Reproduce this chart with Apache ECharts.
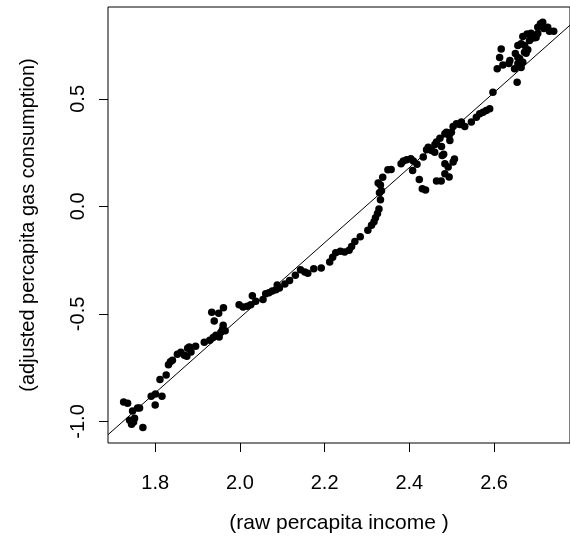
<!DOCTYPE html>
<html>
<head>
<meta charset="utf-8">
<script src="https://cdn.jsdelivr.net/npm/echarts@6/dist/echarts.min.js"></script>
<style>
  html, body { margin: 0; padding: 0; background: #fff; }
  #chart { width: 570px; height: 552px; }
</style>
</head>
<body>
<div id="chart"></div>
<script>
// raw percapita income (x) and adjusted percapita gas consumption (y)
var income = [
  1.7255, 1.7349, 1.7466, 1.7584, 1.7631, 1.7396, 1.7443, 1.7513, 1.7490, 1.7709,
  1.7906, 1.8007, 1.8160, 1.8000, 1.8113, 1.8259, 1.8313, 1.8360, 1.8407, 1.8524,
  1.8606, 1.8689, 1.8747, 1.8766, 1.8806, 1.8846, 1.8954, 1.9159, 1.9288, 1.9370,
  1.9434, 1.9511, 1.9551, 1.9589, 1.9652, 1.9605, 1.9394, 1.9335, 1.9499, 1.9612,
  1.9981, 2.0075, 2.0176, 2.0256, 2.0294, 2.0374, 2.0545, 2.0609, 2.0686, 2.0764,
  2.0851, 2.0881, 2.0933, 2.1062, 2.1173, 2.1309, 2.1431, 2.1532, 2.1603, 2.1744,
  2.1920, 2.2120, 2.2190, 2.2261, 2.2371, 2.2472, 2.2578, 2.2637, 2.2714, 2.2841,
  2.3020, 2.3107, 2.3166, 2.3201, 2.3248, 2.3283, 2.3318, 2.3295, 2.3342, 2.3264,
  2.3318, 2.3372, 2.3494, 2.3570, 2.3805, 2.3859, 2.3937, 2.4035, 2.4094, 2.4181,
  2.4078, 2.4235, 2.4306, 2.4383, 2.4329, 2.4407, 2.4447, 2.4524, 2.4599, 2.4604,
  2.4642, 2.4722, 2.4759, 2.4839, 2.4877, 2.4940, 2.4957, 2.4994, 2.5034, 2.5112,
  2.5192, 2.5229, 2.5309, 2.5464, 2.5582, 2.5662, 2.5740, 2.5817, 2.5897,
  2.4776, 2.4839, 2.4917, 2.4839, 2.4940, 2.5034, 2.5065, 2.4642, 2.4752, 2.4811,
  2.5974, 2.6545, 2.6075, 2.6209, 2.6132, 2.6169, 2.6374, 2.6484, 2.6639, 2.6679,
  2.6562, 2.6503, 2.6562, 2.6639, 2.6679, 2.6780, 2.6874, 2.6837, 2.6797, 2.6719,
  2.6954, 2.6992, 2.7032, 2.7095, 2.7149, 2.7267, 2.7408, 2.7307, 2.6562, 2.6757,
  2.6606, 2.6724, 2.6888, 2.6351, 2.7032, 2.7173
];
var gas = [
  -0.910, -0.915, -0.952, -0.938, -0.938, -0.994, -1.013, -0.985, -1.003, -1.028,
  -0.883, -0.873, -0.883, -0.924, -0.805, -0.784, -0.736, -0.723, -0.715, -0.687,
  -0.678, -0.692, -0.697, -0.660, -0.654, -0.677, -0.650, -0.632, -0.622, -0.610,
  -0.599, -0.607, -0.585, -0.573, -0.578, -0.553, -0.533, -0.492, -0.497, -0.471,
  -0.457, -0.468, -0.464, -0.457, -0.416, -0.441, -0.433, -0.406, -0.402, -0.393,
  -0.388, -0.365, -0.379, -0.361, -0.345, -0.320, -0.295, -0.305, -0.311, -0.290,
  -0.287, -0.258, -0.237, -0.216, -0.209, -0.212, -0.204, -0.187, -0.163, -0.141,
  -0.111, -0.088, -0.071, -0.053, -0.033, -0.012, 0.031, 0.064, 0.073, 0.109,
  0.099, 0.136, 0.170, 0.172, 0.198, 0.211, 0.217, 0.222, 0.211, 0.196,
  0.167, 0.125, 0.082, 0.076, 0.230, 0.263, 0.275, 0.260, 0.252, 0.288,
  0.299, 0.317, 0.279, 0.338, 0.345, 0.330, 0.307, 0.345, 0.372, 0.384,
  0.381, 0.392, 0.372, 0.392, 0.415, 0.431, 0.438, 0.446, 0.454,
  0.237, 0.198, 0.183, 0.152, 0.137, 0.206, 0.220, 0.118, 0.118, 0.242,
  0.531, 0.577, 0.640, 0.657, 0.693, 0.732, 0.678, 0.640, 0.646, 0.670,
  0.693, 0.711, 0.748, 0.756, 0.790, 0.802, 0.805, 0.771, 0.728, 0.717,
  0.784, 0.786, 0.833, 0.849, 0.856, 0.833, 0.814, 0.814, 0.663, 0.712,
  0.687, 0.748, 0.782, 0.664, 0.804, 0.827
];

// fitted line  y = a + b x
var fitIntercept = -4.010;
var fitSlope = 1.746;

var xTicks = [1.8, 2.0, 2.2, 2.4, 2.6];
var yTicks = [-1.0, -0.5, 0.0, 0.5];

var xMin = 1.6886, xMax = 2.7793;
var yMin = -1.1003, yMax = 0.9273;

var points = income.map(function (v, i) { return [v, gas[i]]; });
var fitLine = [xMin, xMax].map(function (x) { return [x, fitIntercept + fitSlope * x]; });

var font = 'Liberation Sans, Arial, sans-serif';

var chart = echarts.init(document.getElementById('chart'), null, { renderer: 'canvas' });
chart.setOption({
  animation: false,
  backgroundColor: '#fff',
  grid: {
    left: 108, top: 7, width: 464, height: 436,
    show: true, borderColor: '#000', borderWidth: 1, backgroundColor: 'transparent'
  },
  xAxis: {
    type: 'value', min: xMin, max: xMax,
    name: '(raw percapita income )', nameLocation: 'middle', nameGap: 70,
    nameTextStyle: { color: '#000', fontSize: 21, fontFamily: font },
    axisLine: { show: false, onZero: false },
    splitLine: { show: false },
    axisTick: { show: true, length: 9, customValues: xTicks, lineStyle: { color: '#000', width: 1 } },
    axisLabel: {
      customValues: xTicks, margin: 30, color: '#000', fontSize: 20, fontFamily: font,
      formatter: function (v) { return v.toFixed(1); }
    }
  },
  yAxis: {
    type: 'value', min: yMin, max: yMax,
    name: '(adjusted percapita gas consumption)', nameLocation: 'middle', nameGap: 70,
    nameTextStyle: { color: '#000', fontSize: 20, fontFamily: font },
    axisLine: { show: false, onZero: false },
    splitLine: { show: false },
    axisTick: { show: true, length: 9, customValues: yTicks, lineStyle: { color: '#000', width: 1 } },
    axisLabel: {
      customValues: yTicks, margin: 20, rotate: 90, color: '#000', fontSize: 20, fontFamily: font,
      formatter: function (v) { return v.toFixed(1); }
    }
  },
  series: [
    {
      type: 'scatter', data: points, symbol: 'circle', symbolSize: 7.5,
      itemStyle: { color: '#000', opacity: 1 }, silent: true
    },
    {
      type: 'line', data: fitLine, showSymbol: false, clip: true,
      lineStyle: { color: '#000', width: 1 }, silent: true
    }
  ]
});
</script>
</body>
</html>
